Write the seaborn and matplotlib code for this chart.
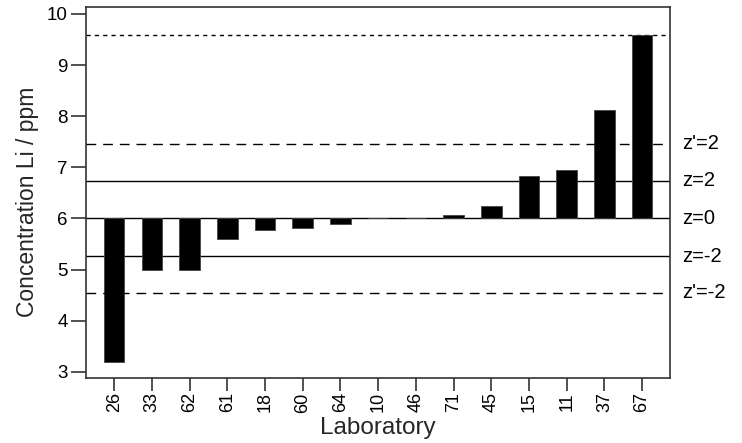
import matplotlib
matplotlib.use("Agg")
import matplotlib.pyplot as plt
import seaborn as sns
import numpy as np
import pandas as pd

labs = ["26", "33", "62", "61", "18", "60", "64", "10", "46", "71", "45", "15", "11", "37", "67"]
conc = [3.19, 4.99, 4.99, 5.59, 5.77, 5.81, 5.89, 6.00, 6.00, 6.07, 6.24, 6.83, 6.95, 8.12, 9.59]
assigned = 6.0
ref_values = [7.46, 6.74, 6.00, 5.26, 4.55]
ref_labels = ["z'=2", "z=2", "z=0", "z=-2", "z'=-2"]
ref_styles = ["dashed", "solid", "solid", "solid", "dashed"]
max_line = 9.59

sns.set_theme(style="ticks")
plt.rcParams["font.family"] = ["Liberation Sans", "DejaVu Sans"]

df = pd.DataFrame({"lab": labs, "dev": np.array(conc) - assigned})

fig = plt.figure(figsize=(7.42, 4.43), dpi=100)
ax = fig.add_axes([0.1155, 0.1474, 0.7875, 0.8361])

sns.barplot(data=df, x="lab", y="dev", order=labs, color="black", width=0.545,
            saturation=1, bottom=assigned, edgecolor="#444444", linewidth=0.6, ax=ax)

for v, lab, ls in zip(ref_values, ref_labels, ref_styles):
    if ls == "dashed":
        ax.axhline(v, color="black", lw=1.0, linestyle=(0, (7, 5)), zorder=3)
    else:
        ax.axhline(v, color="black", lw=1.0, zorder=0.5)
    ax.text(1.02, v, lab, transform=ax.get_yaxis_transform(), ha="left", va="center",
            fontsize=14.5, color="black")
ax.axhline(max_line, color="black", lw=1.0, linestyle=(0, (3, 3)), zorder=0.5)

ax.set_ylim(2.883, 10.13)
ax.set_xlim(-0.756, 14.74)
ax.set_yticks([3, 4, 5, 6, 7, 8, 9, 10])
ax.set_yticklabels(["3", "4", "5", "6", "7", "8", "9", "10"])
ax.tick_params(axis="y", direction="out", length=11, width=1.2, color="#333333",
               labelsize=13.5, labelcolor="black", pad=2)
ax.tick_params(axis="x", direction="out", length=9, width=1.2, color="#333333",
               labelsize=13, labelcolor="black", pad=1.5, labelrotation=90)
for s in ax.spines.values():
    s.set_visible(True)
    s.set_color("#333333")
    s.set_linewidth(1.2)
ax.set_xlabel("Laboratory", fontsize=17.5, va="center")
ax.xaxis.set_label_coords(0.5, -0.135)
ax.set_ylabel("Concentration Li / ppm", fontsize=16.5, va="center")
ax.yaxis.set_label_coords(-0.099, 0.474)
ax.set_facecolor("white")
fig.patch.set_facecolor("white")

fig.savefig("out.png", dpi=100)
